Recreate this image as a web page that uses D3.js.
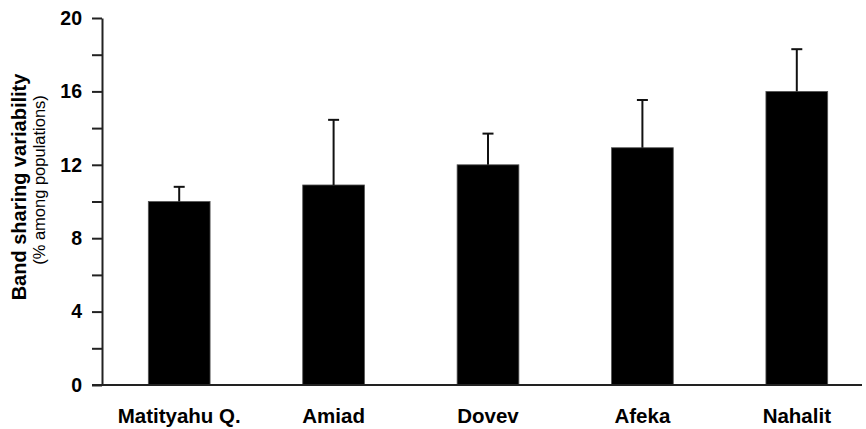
<!DOCTYPE html>
<html>
<head>
<meta charset="utf-8">
<script src="https://cdn.jsdelivr.net/npm/d3@7"></script>
<style>
    body { margin: 0; background: #fff; }
    svg { display: block; font-family: "Liberation Sans", Arial, sans-serif; }
    .axis path, .axis line { stroke: #222; stroke-width: 2; }
    .axis text { fill: #000; font-weight: bold; }
</style>
</head>
<body>
<svg id="chart"></svg>
<script>
// data
const categories = ["Matityahu Q.", "Amiad", "Dovev", "Afeka", "Nahalit"]
const means = [10, 10.9, 12, 12.93, 16]
const errors = [0.8, 3.55, 1.7, 2.6, 2.3]
const yTicks = [0, 2, 4, 6, 8, 10, 12, 14, 16, 18, 20]
const yLabels = [0, 4, 8, 12, 16, 20]

const width = 866
const height = 429

const svg = d3.select('#chart')
    .attr('width', width)
    .attr('height', height)

const xScale = d3.scaleBand().domain(categories).range([102, 874]).paddingInner(0.6).paddingOuter(0.3)
const yScale = d3.scaleLinear().domain([0, 20]).range([385, 18])

// bars
svg.append('g').selectAll('rect')
    .data(categories)
    .join('rect')
    .attr('x', d => xScale(d))
    .attr('y', (d, i) => yScale(means[i]))
    .attr('width', xScale.bandwidth())
    .attr('height', (d, i) => yScale(0) - yScale(means[i]))
    .attr('fill', '#000')
    .attr('stroke', '#555')
    .attr('stroke-width', 0.8)

// error bars (upper only)
const err = svg.append('g').attr('stroke', '#111').attr('stroke-width', 2)
categories.forEach((c, i) => {
    const cx = xScale(c) + xScale.bandwidth() / 2
    err.append('line')
        .attr('x1', cx).attr('x2', cx)
        .attr('y1', yScale(means[i])).attr('y2', yScale(means[i] + errors[i]))
    err.append('line')
        .attr('x1', cx - 5.5).attr('x2', cx + 5.5)
        .attr('y1', yScale(means[i] + errors[i])).attr('y2', yScale(means[i] + errors[i]))
})

// y axis
const yAxis = d3.axisLeft(yScale)
    .tickValues(yTicks)
    .tickSize(10)
    .tickSizeOuter(0)
    .tickPadding(10)
    .tickFormat(d => yLabels.includes(d) ? d : '')
svg.append('g')
    .attr('class', 'axis')
    .attr('transform', 'translate(102,0)')
    .call(yAxis)
    .selectAll('text')
    .style('font-size', '19.5px')

// x axis baseline
svg.append('line')
    .attr('x1', 92).attr('x2', 862)
    .attr('y1', yScale(0)).attr('y2', yScale(0))
    .attr('stroke', '#222').attr('stroke-width', 2)

// category labels
const xAxis = d3.axisBottom(xScale).tickSize(0).tickPadding(23)
const gx = svg.append('g')
    .attr('class', 'axis')
    .attr('transform', `translate(0,${yScale(0)})`)
    .call(xAxis)
gx.select('.domain').remove()
gx.selectAll('text').style('font-size', '20.5px')

// y title
svg.append('text')
    .attr('transform', 'translate(26,187) rotate(-90)')
    .attr('text-anchor', 'middle')
    .style('font-size', '20px')
    .style('font-weight', 'bold')
    .text('Band sharing variability')

svg.append('text')
    .attr('transform', 'translate(45,180) rotate(-90)')
    .attr('text-anchor', 'middle')
    .style('font-size', '16.5px')
    .text('(% among populations)')
</script>
</body>
</html>
